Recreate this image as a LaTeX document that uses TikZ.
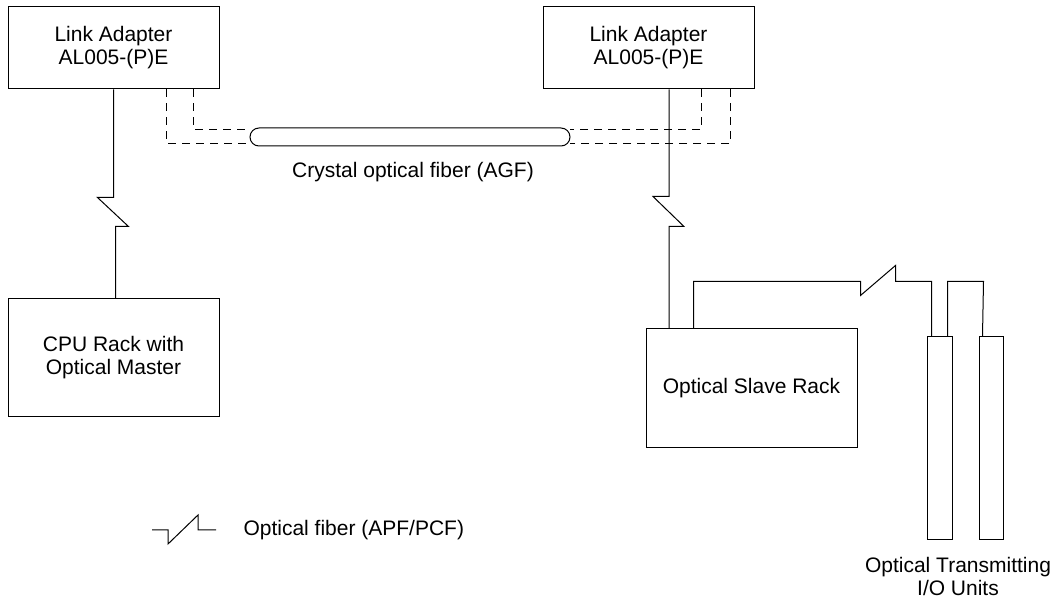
\documentclass[tikz,border=0pt]{standalone}
\usepackage{fontspec}
\setmainfont{Liberation Sans}
\usetikzlibrary{calc}
\begin{document}
\begin{tikzpicture}[x=1pt,y=-1pt,line width=1pt,
  box/.style={draw,rectangle,inner sep=0pt,align=center,font=\fontsize{21}{23}\selectfont},
  lbl/.style={inner sep=0pt,align=center,font=\fontsize{21}{23}\selectfont},
  fib/.style={draw,dash pattern=on 8pt off 6pt}]
\useasboundingbox (0,0) rectangle (1053,601);
% boxes
\node[box,minimum width=211pt,minimum height=82pt] (la1) at (113.5,48) {Link Adapter\\AL005-(P)E};
\node[box,minimum width=211pt,minimum height=82pt] (la2) at (648.5,48) {Link Adapter\\AL005-(P)E};
\node[box,minimum width=211pt,minimum height=118pt] (cpu) at (113.5,358) {CPU Rack with\\Optical Master};
\node[box,minimum width=211pt,minimum height=119pt] (slave) at (751.5,388.5) {Optical Slave Rack};
\node[box,minimum width=25pt,minimum height=203pt] (io1) at (939.5,438.5) {};
\node[box,minimum width=24pt,minimum height=203pt] (io2) at (991,438.5) {};
\node[draw,rectangle,rounded corners=9pt,minimum width=320pt,minimum height=18pt,inner sep=0pt] (tube) at (410,137) {};
% labels
\node[lbl] (crys) at (413,172) {Crystal optical fiber (AGF)};
\node[lbl] (iolbl) at (958,576) {Optical Transmitting\\I/O Units};
\node[lbl,anchor=west] (leg) at (243,530) {Optical fiber (APF/PCF)};
% left optical fiber link
\draw (la1.south) -- ++(0,108) -- ++(-16,0) -- ++(31,29) -- ++(-13,0) coordinate (k1) -- (k1 |- cpu.north);
% right optical fiber link
\draw ($(la2.south)+(20.5,0)$) -- ++(0,107) -- ++(-16,0) -- ++(31,30) -- ++(-15,0) coordinate (k2) -- (k2 |- slave.north);
% slave to io units
\draw ($(slave.north west)+(48,0)$) -- ++(0,-47) -- ++(167,0) -- ++(0,14) -- ++(35,-30) -- ++(0,16) -- ++(36,0) -- ($(io1.north west)+(5,0)$);
\draw ($(io1.north east)+(-5,0)$) -- ++(0,-55) -- ++(36,0) -- ($(io2.north west)+(4,0)$);
% crystal fiber dashed connections
\draw[fib] ($(la1.south west)+(159,0)$) |- ($(tube.west)+(1,7)$);
\draw[fib] ($(la1.south west)+(186,0)$) |- ($(tube.west)+(1,-7)$);
\draw[fib] ($(la2.south west)+(159,0)$) |- ($(tube.east)+(-1,-7)$);
\draw[fib] ($(la2.south west)+(188,0)$) |- ($(tube.east)+(-1,7)$);
% legend symbol
\coordinate (l0) at (152,530);
\draw (l0) -- ++(16,0) -- ++(0,14) -- ++(30,-29) -- ++(0,15) -- ++(18,0);
\end{tikzpicture}
\end{document}
